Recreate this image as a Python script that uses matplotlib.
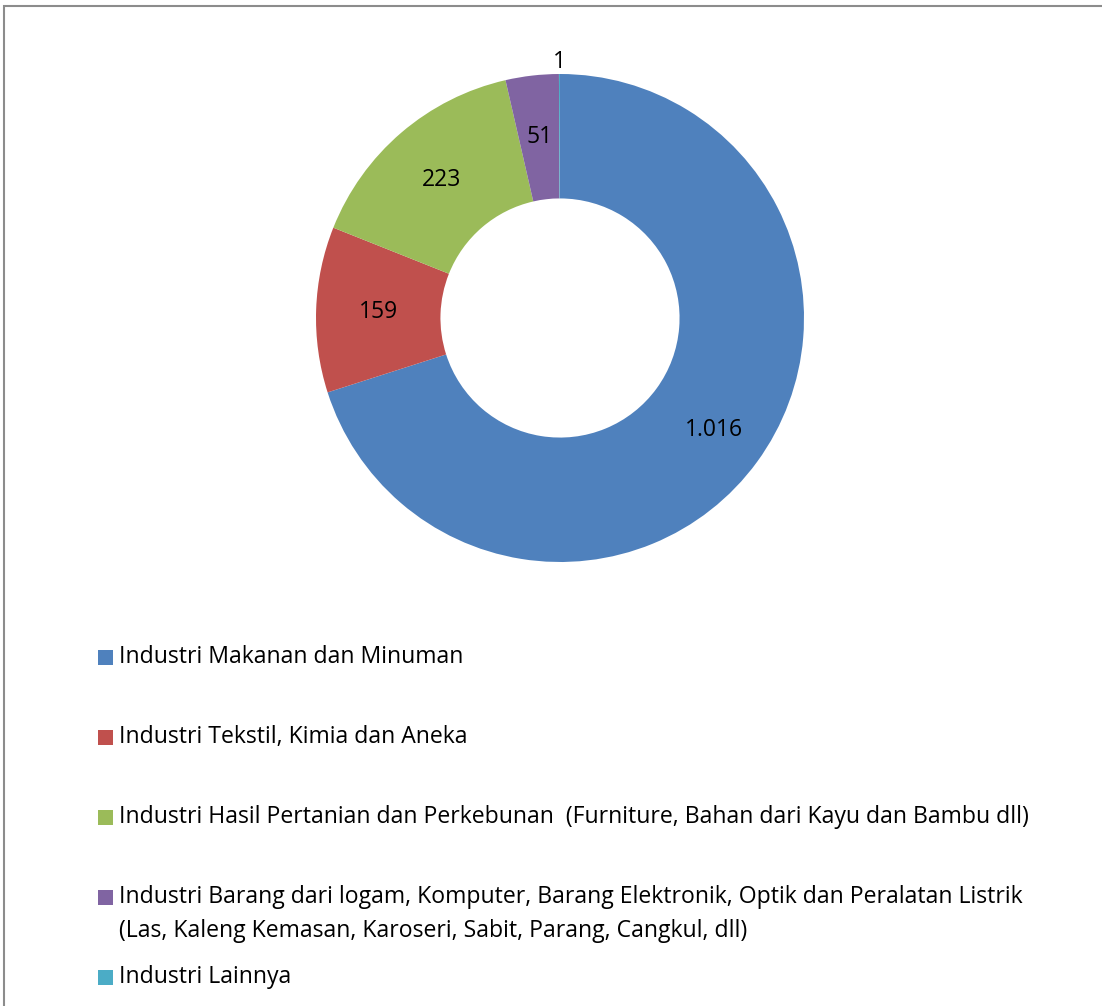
import numpy as np
import matplotlib.pyplot as plt
from matplotlib.patches import Rectangle

categories = [
    "Industri Makanan dan Minuman",
    "Industri Tekstil, Kimia dan Aneka",
    "Industri Hasil Pertanian dan Perkebunan  (Furniture, Bahan dari Kayu dan Bambu dll)",
    "Industri Barang dari logam, Komputer, Barang Elektronik, Optik dan Peralatan Listrik\n(Las, Kaleng Kemasan, Karoseri, Sabit, Parang, Cangkul, dll)",
    "Industri Lainnya",
]
values = [1016, 159, 223, 51, 1]
value_labels = ["1.016", "159", "223", "51", "1"]
colors = ["#4F81BD", "#C0504D", "#9BBB59", "#8064A2", "#4BACC6"]

plt.rcParams['font.family'] = ['Open Sans', 'DejaVu Sans']

W, H = 1102, 1006
fig = plt.figure(figsize=(W / 100, H / 100), dpi=100)

# frame around the chart area
fig.patches.append(Rectangle((4 / W, -0.1), 1.2, (H - 6) / H + 0.1, transform=fig.transFigure,
                             fill=False, edgecolor="#8c8c8c", linewidth=1.5))

# donut
cx, cy, r = 560, 318, 244
ax = fig.add_axes([(cx - r) / W, (H - cy - r) / H, 2 * r / W, 2 * r / H])
wedges, _ = ax.pie(values, colors=colors, startangle=90, counterclock=False,
                   radius=1, wedgeprops=dict(width=0.51, edgecolor="none"))
ax.set_xlim(-1, 1)
ax.set_ylim(-1, 1)
ax.set_aspect("equal")
ax.axis("off")

for w, lab, v in zip(wedges, value_labels, values):
    ang = np.deg2rad((w.theta1 + w.theta2) / 2)
    rr = 0.745 if v > 10 else 1.05
    dx, dy = (0.03, -0.02) if v > 500 else (0, 0)
    ax.text(rr * np.cos(ang) + dx, rr * np.sin(ang) + dy, lab,
            ha="center", va="center", fontsize=16.5, color="black")

# legend
fs = 16.6
leg_y = [657, 737, 817, 897, 977]
for c, lab, y in zip(colors, categories, leg_y):
    fig.patches.append(Rectangle((98 / W, (H - y - 7.5) / H), 15 / W, 15 / H,
                                 transform=fig.transFigure, facecolor=c, edgecolor="none"))
    for i, line in enumerate(lab.split("\n")):
        fig.text(119 / W, (H - y - 34 * i) / H, line, ha="left", va="center", fontsize=fs)

fig.savefig("out.png", dpi=100)
